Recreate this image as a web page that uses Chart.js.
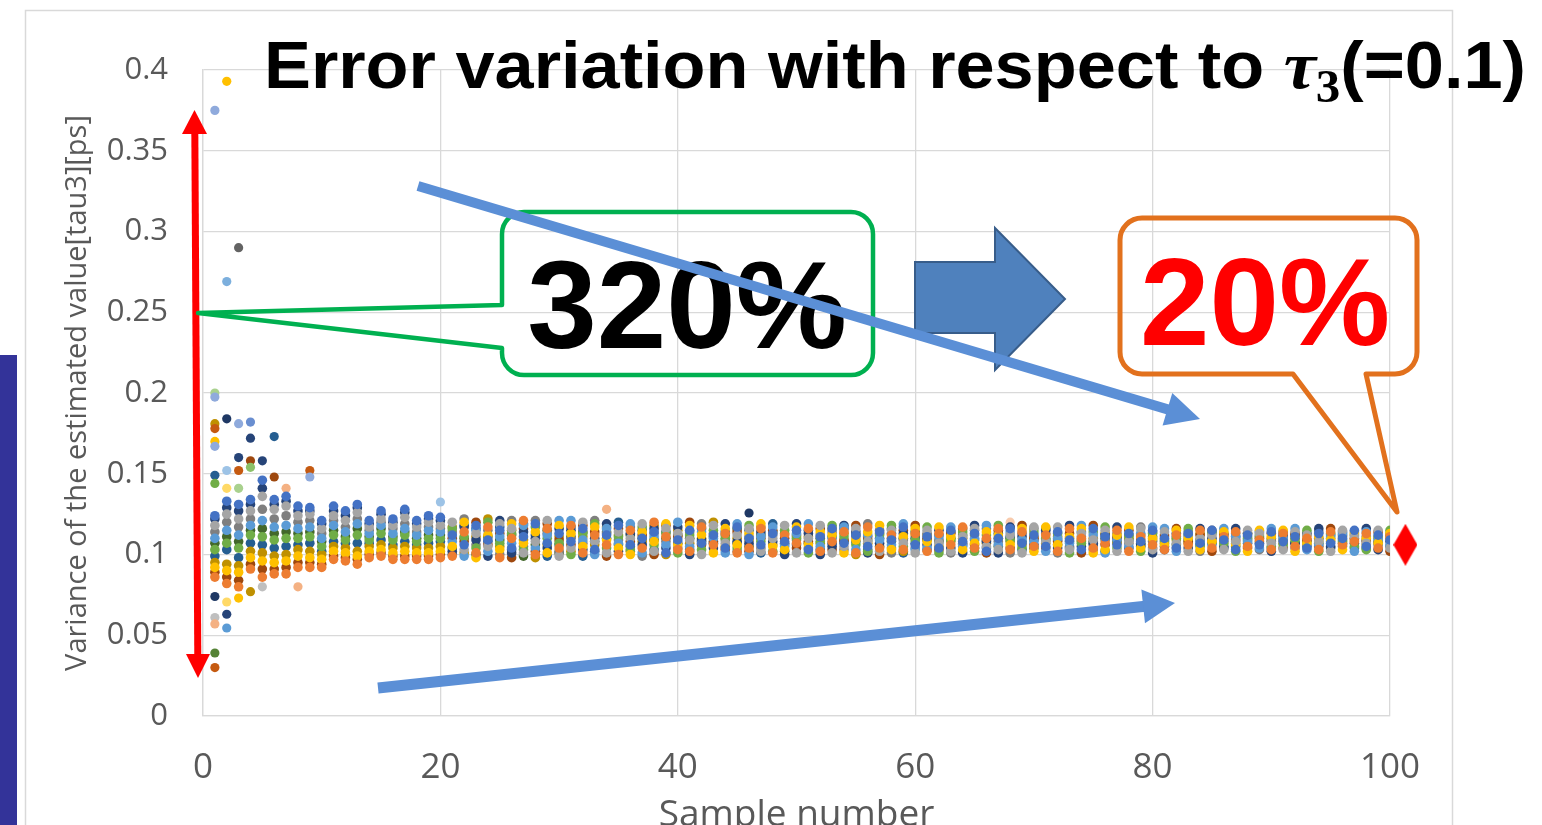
<!DOCTYPE html>
<html>
<head>
<meta charset="utf-8">
<title>Error variation with respect to tau3</title>
<script src="https://cdn.jsdelivr.net/npm/chart.js@4/dist/chart.umd.min.js"></script>
<style>
  html, body { margin: 0; padding: 0; background: #ffffff; }
  canvas { display: block; }
</style>
</head>
<body>
<canvas id="chart" width="1542" height="825"></canvas>
<script>
// estimated tau3 per sample number (1..100), one array per run
const runA = [0.124,0.133,0.131,0.134,0.146,0.134,0.136,0.130,0.129,0.121, 0.130,0.127,0.131,0.121,0.127,0.122,0.128,0.121,0.124,0.123,
  0.112,0.106,0.118,0.109,0.115,0.104,0.111,0.119,0.107,0.113, 0.108,0.116,0.103,0.112,0.118,0.106,0.110,0.114,0.101,0.109,
  0.115,0.107,0.112,0.104,0.117,0.110,0.106,0.113,0.108,0.115, 0.103,0.111,0.116,0.107,0.112,0.105,0.114,0.109,0.117,0.106,
  0.111,0.104,0.115,0.108,0.113,0.102,0.110,0.116,0.107,0.112, 0.105,0.114,0.109,0.103,0.116,0.111,0.106,0.113,0.108,0.115,
  0.110,0.104,0.113,0.107,0.115,0.109,0.103,0.112,0.106,0.114, 0.108,0.111,0.104,0.113,0.107,0.110,0.115,0.105,0.112,0.109];
const runB = [0.086,0.082,0.080,0.091,0.086,0.088,0.088,0.092,0.092,0.092, 0.097,0.096,0.094,0.098,0.099,0.097,0.097,0.097,0.097,0.098,
  0.099,0.114,0.101,0.117,0.098,0.110,0.121,0.100,0.116,0.104, 0.118,0.101,0.112,0.106,0.100,0.115,0.104,0.120,0.111,0.103,
  0.102,0.117,0.106,0.113,0.101,0.104,0.116,0.101,0.112,0.107, 0.116,0.102,0.108,0.114,0.101,0.117,0.104,0.112,0.103,0.113,
  0.102,0.113,0.106,0.117,0.104,0.110,0.116,0.103,0.114,0.105, 0.112,0.102,0.116,0.110,0.104,0.107,0.115,0.102,0.111,0.106,
  0.103,0.112,0.106,0.115,0.104,0.111,0.114,0.105,0.109,0.103, 0.113,0.105,0.110,0.103,0.114,0.106,0.108,0.113,0.104,0.111];
const runC = [0.118,0.125,0.122,0.127,0.136,0.128,0.130,0.124,0.125,0.116, 0.124,0.121,0.126,0.117,0.122,0.118,0.123,0.117,0.120,0.118,
  0.120,0.103,0.113,0.105,0.119,0.116,0.101,0.108,0.121,0.099, 0.104,0.120,0.108,0.101,0.114,0.110,0.119,0.102,0.116,0.113,
  0.109,0.100,0.118,0.107,0.112,0.116,0.102,0.110,0.118,0.101, 0.110,0.118,0.101,0.105,0.116,0.108,0.102,0.115,0.107,0.101,
  0.115,0.107,0.102,0.111,0.116,0.105,0.103,0.112,0.101,0.117, 0.108,0.117,0.103,0.113,0.109,0.115,0.102,0.108,0.116,0.103,
  0.114,0.107,0.102,0.110,0.112,0.103,0.108,0.115,0.113,0.107, 0.103,0.114,0.112,0.108,0.102,0.115,0.111,0.107,0.115,0.104];
const runD = [0.092,0.090,0.089,0.098,0.096,0.095,0.096,0.099,0.098,0.097, 0.102,0.101,0.099,0.102,0.103,0.101,0.102,0.101,0.101,0.102,
  0.105,0.120,0.098,0.112,0.103,0.119,0.107,0.114,0.101,0.118, 0.113,0.105,0.117,0.109,0.104,0.100,0.114,0.108,0.119,0.106,
  0.118,0.112,0.101,0.116,0.106,0.113,0.119,0.105,0.103,0.117, 0.106,0.114,0.112,0.101,0.109,0.114,0.118,0.103,0.111,0.116,
  0.108,0.117,0.111,0.103,0.107,0.114,0.112,0.106,0.116,0.102, 0.117,0.106,0.111,0.116,0.101,0.103,0.112,0.117,0.104,0.110,
  0.106,0.115,0.110,0.103,0.108,0.114,0.106,0.102,0.115,0.111, 0.115,0.102,0.107,0.111,0.109,0.103,0.113,0.110,0.107,0.113];
const runE = [0.110,0.115,0.112,0.118,0.121,0.117,0.118,0.116,0.117,0.110, 0.118,0.114,0.119,0.113,0.118,0.113,0.116,0.112,0.115,0.114,
  0.108,0.099,0.115,0.102,0.111,0.107,0.118,0.104,0.112,0.121, 0.121,0.109,0.100,0.116,0.107,0.119,0.101,0.111,0.106,0.120,
  0.105,0.114,0.110,0.101,0.119,0.100,0.111,0.117,0.105,0.113, 0.119,0.105,0.110,0.117,0.103,0.112,0.109,0.106,0.119,0.103,
  0.104,0.111,0.117,0.105,0.110,0.118,0.106,0.114,0.109,0.108, 0.102,0.110,0.107,0.118,0.112,0.101,0.109,0.105,0.113,0.117,
  0.116,0.102,0.111,0.108,0.106,0.116,0.111,0.108,0.104,0.116, 0.110,0.116,0.103,0.106,0.111,0.113,0.102,0.114,0.109,0.106];
const runF = [0.103,0.107,0.104,0.112,0.111,0.109,0.110,0.110,0.111,0.105, 0.112,0.109,0.112,0.109,0.113,0.109,0.112,0.108,0.110,0.110,
  0.116,0.111,0.104,0.120,0.107,0.113,0.103,0.117,0.110,0.107, 0.100,0.113,0.119,0.104,0.111,0.103,0.117,0.106,0.113,0.101,
  0.112,0.103,0.115,0.110,0.104,0.118,0.108,0.102,0.115,0.110, 0.101,0.108,0.118,0.111,0.106,0.102,0.112,0.118,0.105,0.109,
  0.117,0.101,0.109,0.114,0.102,0.112,0.118,0.109,0.104,0.114, 0.110,0.113,0.101,0.107,0.114,0.117,0.104,0.111,0.102,0.113,
  0.108,0.110,0.116,0.105,0.113,0.107,0.102,0.110,0.112,0.105, 0.106,0.109,0.115,0.102,0.113,0.108,0.105,0.103,0.111,0.115];
const runG = [0.122,0.129,0.127,0.131,0.141,0.131,0.133,0.127,0.127,0.119, 0.127,0.124,0.129,0.119,0.125,0.120,0.126,0.119,0.122,0.121,
  0.102,0.117,0.109,0.099,0.121,0.101,0.114,0.110,0.104,0.116, 0.115,0.103,0.110,0.119,0.102,0.113,0.106,0.116,0.104,0.117,
  0.100,0.109,0.104,0.119,0.108,0.107,0.114,0.108,0.100,0.119, 0.113,0.100,0.105,0.118,0.114,0.101,0.107,0.116,0.113,0.110,
  0.106,0.115,0.104,0.101,0.118,0.108,0.101,0.117,0.111,0.106, 0.115,0.104,0.118,0.105,0.107,0.112,0.117,0.104,0.106,0.101,
  0.105,0.113,0.104,0.116,0.110,0.105,0.116,0.113,0.107,0.102, 0.112,0.107,0.113,0.116,0.105,0.112,0.107,0.116,0.103,0.108];
const runH = [0.089,0.086,0.084,0.094,0.091,0.091,0.092,0.095,0.095,0.094, 0.099,0.098,0.097,0.100,0.101,0.099,0.099,0.099,0.099,0.100,
  0.110,0.108,0.120,0.106,0.113,0.098,0.116,0.102,0.119,0.109, 0.106,0.118,0.114,0.099,0.116,0.108,0.112,0.100,0.118,0.111,
  0.120,0.106,0.108,0.103,0.114,0.102,0.110,0.115,0.110,0.104, 0.108,0.116,0.103,0.109,0.118,0.111,0.100,0.110,0.115,0.118,
  0.110,0.103,0.113,0.116,0.106,0.101,0.115,0.104,0.118,0.110, 0.104,0.108,0.113,0.101,0.118,0.106,0.110,0.115,0.109,0.104,
  0.112,0.116,0.108,0.112,0.102,0.113,0.109,0.104,0.110,0.113, 0.104,0.113,0.109,0.105,0.116,0.107,0.110,0.108,0.114,0.102];
const runI = [0.114,0.120,0.117,0.122,0.128,0.122,0.124,0.120,0.121,0.113, 0.121,0.117,0.122,0.115,0.120,0.116,0.119,0.114,0.117,0.116,
  0.114,0.122,0.106,0.115,0.100,0.121,0.105,0.121,0.113,0.102, 0.110,0.107,0.121,0.113,0.109,0.117,0.099,0.113,0.108,0.104,
  0.114,0.119,0.113,0.109,0.102,0.111,0.104,0.112,0.106,0.109, 0.104,0.112,0.114,0.103,0.111,0.119,0.115,0.101,0.109,0.104,
  0.113,0.109,0.101,0.107,0.115,0.116,0.108,0.101,0.113,0.116, 0.113,0.101,0.105,0.111,0.103,0.109,0.113,0.107,0.117,0.108,
  0.107,0.104,0.114,0.102,0.115,0.108,0.113,0.111,0.103,0.109, 0.111,0.104,0.106,0.114,0.108,0.105,0.114,0.111,0.106,0.113];
const runJ = [0.095,0.094,0.093,0.102,0.101,0.099,0.100,0.103,0.102,0.100, 0.105,0.104,0.102,0.105,0.106,0.104,0.105,0.104,0.104,0.105,
  0.117,0.101,0.111,0.122,0.105,0.115,0.109,0.098,0.106,0.111, 0.102,0.111,0.106,0.117,0.112,0.102,0.108,0.118,0.100,0.115,
  0.107,0.110,0.120,0.105,0.110,0.109,0.117,0.106,0.113,0.111, 0.111,0.107,0.116,0.113,0.100,0.107,0.113,0.104,0.102,0.112,
  0.112,0.105,0.108,0.110,0.112,0.107,0.110,0.108,0.106,0.111, 0.107,0.111,0.110,0.108,0.110,0.113,0.107,0.110,0.112,0.109,
  0.111,0.109,0.107,0.113,0.108,0.110,0.107,0.113,0.108,0.110, 0.107,0.110,0.112,0.109,0.110,0.111,0.109,0.106,0.110,0.110];
const runK = [0.099,0.103,0.098,0.107,0.106,0.104,0.105,0.106,0.107,0.102, 0.108,0.107,0.107,0.107,0.109,0.106,0.108,0.106,0.107,0.108,
  0.100,0.118,0.116,0.108,0.117,0.103,0.119,0.112,0.099,0.106, 0.117,0.099,0.102,0.110,0.120,0.105,0.115,0.103,0.114,0.107,
  0.103,0.116,0.107,0.114,0.107,0.115,0.101,0.119,0.107,0.106, 0.115,0.103,0.107,0.116,0.108,0.103,0.110,0.113,0.101,0.107,
  0.103,0.112,0.114,0.106,0.109,0.104,0.113,0.111,0.103,0.109, 0.116,0.109,0.104,0.114,0.106,0.102,0.111,0.109,0.105,0.114,
  0.103,0.111,0.109,0.106,0.114,0.104,0.111,0.107,0.114,0.104, 0.114,0.107,0.105,0.110,0.104,0.114,0.104,0.109,0.107,0.105];
const runL = [0.107,0.111,0.108,0.115,0.116,0.113,0.114,0.113,0.114,0.108, 0.115,0.111,0.116,0.111,0.116,0.111,0.114,0.110,0.112,0.112,
  0.104,0.110,0.100,0.111,0.109,0.112,0.099,0.106,0.115,0.101, 0.111,0.114,0.108,0.114,0.106,0.112,0.110,0.109,0.110,0.112,
  0.110,0.108,0.111,0.112,0.116,0.105,0.112,0.114,0.102,0.112, 0.107,0.110,0.111,0.108,0.112,0.109,0.105,0.108,0.110,0.114,
  0.109,0.108,0.110,0.112,0.104,0.109,0.105,0.110,0.108,0.104, 0.109,0.106,0.108,0.109,0.108,0.110,0.108,0.112,0.107,0.111,
  0.109,0.106,0.112,0.109,0.107,0.112,0.105,0.109,0.111,0.108, 0.109,0.112,0.108,0.107,0.112,0.109,0.112,0.104,0.108,0.112];

const runs = [runA, runB, runC, runD, runE, runF, runG, runH, runI, runJ, runK, runL];
const runColors = ['#4472C4', '#ED7D31', '#A5A5A5', '#FFC000', '#5B9BD5', '#70AD47',
                   '#264478', '#9E480E', '#7F7F7F', '#BF9000', '#255E91', '#43682B'];

// scattered points that stand out from the band (mostly the first few samples)
const extraX = [1,1,1,1,1,1,1,1,1,1,1,1,1,1, 2,2,2,2,2,2,2,2, 3,3,3,3,3,3, 4,4,4,4,4, 5,5, 6,6, 7, 8, 9,9, 20, 34, 46, 68];
const extraY = [0.375,0.200,0.1975,0.181,0.178,0.170,0.167,0.149,0.144,0.074,0.061,0.057,0.039,0.030,
                0.393,0.269,0.184,0.152,0.141,0.0706,0.063,0.0545,
                0.290,0.181,0.160,0.152,0.141,0.073,
                0.182,0.172,0.158,0.154,0.077,
                0.158,0.080, 0.173,0.148, 0.141, 0.080, 0.152,0.148,
                0.1325, 0.128, 0.1257, 0.120];
const extraColors = ['#8FAADC','#A9D18E','#8FAADC','#BF9000','#C55A11','#FFC000','#8FAADC','#255E91','#70AD47','#1F3864','#BFBFBF','#F4B183','#548235','#C55A11',
                     '#FFC000','#7CAFDD','#1F3864','#9DC3E6','#FFD966','#FFD966','#264478','#5B9BD5',
                     '#636363','#8FAADC','#264478','#C55A11','#A9D18E','#FFC000',
                     '#698ED0','#264478','#9E480E','#8CC168','#BF9000',
                     '#264478','#BFBFBF', '#255E91','#9E480E', '#F4B183', '#F4B183', '#C55A11','#8FAADC',
                     '#9DC3E6', '#F4B183', '#1F3864', '#F8CBAD'];

// red marker to the right of the last sample
const markerX = [101.3];
const markerY = [0.106];

const xTicks = [0, 20, 40, 60, 80, 100];

function diamondImage(w, h, color) {
    const c = document.createElement('canvas');
    c.width = w; c.height = h;
    const g = c.getContext('2d');
    g.fillStyle = color;
    g.beginPath();
    g.moveTo(w / 2, 0); g.lineTo(w, h / 2); g.lineTo(w / 2, h); g.lineTo(0, h / 2);
    g.closePath();
    g.fill();
    return c;
}

function lineArrow(ctx, x0, y0, x1, y1, width, headLen, headHalf, color) {
    const dx = x1 - x0, dy = y1 - y0;
    const len = Math.sqrt(dx * dx + dy * dy);
    const ux = dx / len, uy = dy / len;
    const bx = x1 - ux * headLen, by = y1 - uy * headLen;
    ctx.strokeStyle = color;
    ctx.fillStyle = color;
    ctx.lineWidth = width;
    ctx.lineCap = 'butt';
    ctx.beginPath();
    ctx.moveTo(x0, y0);
    ctx.lineTo(bx + ux * 2, by + uy * 2);
    ctx.stroke();
    ctx.beginPath();
    ctx.moveTo(x1, y1);
    ctx.lineTo(bx - uy * headHalf, by + ux * headHalf);
    ctx.lineTo(bx + uy * headHalf, by - ux * headHalf);
    ctx.closePath();
    ctx.fill();
}

const decorPlugin = {
    id: 'decor',
    beforeDraw(chart) {
        const ctx = chart.ctx;
        ctx.save();
        ctx.fillStyle = '#ffffff';
        ctx.fillRect(0, 0, chart.width, chart.height);
        // slide frame
        ctx.strokeStyle = '#D9D9D9';
        ctx.lineWidth = 1.5;
        ctx.strokeRect(25.5, 10.5, 1427, 840);
        // dark bar at the left edge
        ctx.fillStyle = '#333399';
        ctx.fillRect(0, 355, 17, 470);
        ctx.restore();
    },
    afterDraw(chart) {
        const ctx = chart.ctx;
        ctx.save();

        // title
        const parts = [
            { t: 'Error variation with respect to ', f: 'bold 66px "Liberation Sans", Arial, sans-serif', dy: 0 },
            { t: '\u03C4', f: 'italic bold 68px "Liberation Serif", "DejaVu Serif", serif', dy: 0 },
            { t: '3', f: 'bold 46px "Liberation Serif", "DejaVu Serif", serif', dy: 14 },
            { t: '(=0.1)', f: 'bold 66px "Liberation Sans", Arial, sans-serif', dy: 0 }
        ];
        let total = 0;
        parts.forEach(p => { ctx.font = p.f; p.w = ctx.measureText(p.t).width; total += p.w; });
        const sx = 1262 / total;
        ctx.translate(264, 88);
        ctx.scale(sx, 1);
        ctx.fillStyle = '#000000';
        ctx.textBaseline = 'alphabetic';
        ctx.textAlign = 'left';
        let cx = 0;
        parts.forEach(p => { ctx.font = p.f; ctx.fillText(p.t, cx, p.dy); cx += p.w; });
        ctx.setTransform(1, 0, 0, 1, 0, 0);

        // red double arrow along the y axis
        ctx.strokeStyle = '#FF0000';
        ctx.fillStyle = '#FF0000';
        ctx.lineWidth = 7;
        ctx.beginPath();
        ctx.moveTo(194.8, 128);
        ctx.lineTo(197.8, 658);
        ctx.stroke();
        ctx.beginPath();
        ctx.moveTo(194.5, 110); ctx.lineTo(207, 134); ctx.lineTo(182, 134); ctx.closePath();
        ctx.fill();
        ctx.beginPath();
        ctx.moveTo(198, 678); ctx.lineTo(186, 654); ctx.lineTo(210, 654); ctx.closePath();
        ctx.fill();

        // green callout
        ctx.lineJoin = 'round';
        ctx.strokeStyle = '#00B050';
        ctx.lineWidth = 4.5;
        let L = 502, T = 212, R = 873, B = 375, r = 22;
        ctx.beginPath();
        ctx.moveTo(L + r, T);
        ctx.lineTo(R - r, T);
        ctx.arcTo(R, T, R, T + r, r);
        ctx.lineTo(R, B - r);
        ctx.arcTo(R, B, R - r, B, r);
        ctx.lineTo(L + r, B);
        ctx.arcTo(L, B, L, B - r, r);
        ctx.lineTo(L, 348);
        ctx.lineTo(198, 313);
        ctx.lineTo(L, 305);
        ctx.lineTo(L, T + r);
        ctx.arcTo(L, T, L + r, T, r);
        ctx.closePath();
        ctx.stroke();

        // orange callout
        ctx.strokeStyle = '#E2711D';
        ctx.lineWidth = 5;
        L = 1120; T = 218; R = 1417; B = 374; r = 22;
        ctx.beginPath();
        ctx.moveTo(L + r, T);
        ctx.lineTo(R - r, T);
        ctx.arcTo(R, T, R, T + r, r);
        ctx.lineTo(R, B - r);
        ctx.arcTo(R, B, R - r, B, r);
        ctx.lineTo(1366, B);
        ctx.lineTo(1397, 512);
        ctx.lineTo(1293, B);
        ctx.lineTo(L + r, B);
        ctx.arcTo(L, B, L, B - r, r);
        ctx.lineTo(L, T + r);
        ctx.arcTo(L, T, L + r, T, r);
        ctx.closePath();
        ctx.stroke();

        // big percentages
        ctx.font = 'bold 125px "Liberation Sans", Arial, sans-serif';
        ctx.textAlign = 'center';
        ctx.textBaseline = 'alphabetic';
        ctx.fillStyle = '#000000';
        ctx.fillText('320%', 687, 348);
        ctx.fillStyle = '#FF0000';
        ctx.fillText('20%', 1265, 345);

        // block arrow between the two callouts
        ctx.fillStyle = '#4F81BD';
        ctx.strokeStyle = '#385D8A';
        ctx.lineWidth = 2;
        ctx.lineJoin = 'miter';
        ctx.beginPath();
        ctx.moveTo(915, 262); ctx.lineTo(995, 262); ctx.lineTo(995, 228);
        ctx.lineTo(1065, 299); ctx.lineTo(995, 370); ctx.lineTo(995, 333);
        ctx.lineTo(915, 333);
        ctx.closePath();
        ctx.fill();
        ctx.stroke();

        // converging blue arrows
        lineArrow(ctx, 418, 186, 1200, 419, 10, 34, 17, '#5B8FD6');
        lineArrow(ctx, 378, 688, 1175, 603, 11, 32, 17, '#5B8FD6');

        ctx.restore();
    }
};

const datasets = runs.map((run, i) => ({
    label: 'run ' + (i + 1),
    data: run.map((v, j) => ({ x: j + 1, y: v })),
    backgroundColor: runColors[i],
    borderWidth: 0,
    pointRadius: 4.8,
    showLine: false
}));

datasets.push({
    label: 'outliers',
    data: extraX.map((x, j) => ({ x: x, y: extraY[j] })),
    backgroundColor: extraColors,
    borderWidth: 0,
    pointRadius: 4.6,
    showLine: false
});

datasets.unshift({
    label: 'marker',
    data: markerX.map((x, j) => ({ x: x, y: markerY[j] })),
    pointStyle: diamondImage(24, 42, '#FF0000'),
    pointRadius: 21,
    clip: false,
    showLine: false
});

const gridColor = '#D9D9D9';
const axisFont = '"Open Sans", "Noto Sans", sans-serif';

new Chart(document.getElementById('chart'), {
    type: 'scatter',
    data: { datasets: datasets },
    options: {
        responsive: false,
        animation: false,
        devicePixelRatio: 1,
        layout: { padding: { left: 30, right: 152, top: 70, bottom: 0 } },
        plugins: {
            legend: { display: false },
            title: { display: false },
            tooltip: { enabled: false }
        },
        events: [],
        scales: {
            x: {
                type: 'linear',
                min: 0,
                max: 100,
                afterFit: scale => { scale.height = 109; },
                afterBuildTicks: scale => { scale.ticks = xTicks.map(v => ({ value: v })); },
                grid: { color: gridColor, lineWidth: 1.3, drawTicks: false },
                border: { color: gridColor, width: 1.3 },
                ticks: {
                    padding: 31,
                    color: '#595959',
                    font: { family: axisFont, size: 35 },
                    maxRotation: 0
                },
                title: {
                    display: true,
                    text: 'Sample number',
                    color: '#595959',
                    font: { family: axisFont, size: 37, lineHeight: 1 },
                    padding: { top: 0, bottom: -9 }
                }
            },
            y: {
                min: 0,
                max: 0.4,
                afterFit: scale => { scale.width = 173; },
                grid: { color: gridColor, lineWidth: 1.3, drawTicks: false },
                border: { color: gridColor, width: 1.3 },
                ticks: {
                    stepSize: 0.05,
                    padding: 35,
                    color: '#595959',
                    font: { family: axisFont, size: 31 },
                    callback: v => String(Number(v.toFixed(2)))
                },
                title: {
                    display: true,
                    text: 'Variance of the estimated value[tau3][ps]',
                    color: '#595959',
                    font: { family: axisFont, size: 29 },
                    padding: { top: 30, bottom: 0 }
                }
            }
        }
    },
    plugins: [decorPlugin]
});
</script>
</body>
</html>
